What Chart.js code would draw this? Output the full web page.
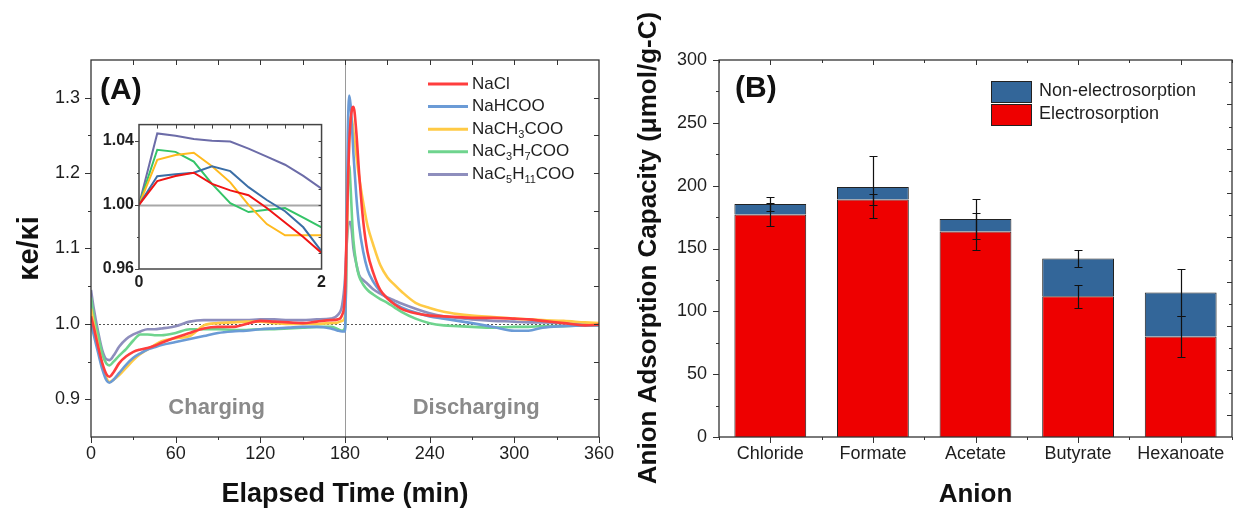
<!DOCTYPE html>
<html>
<head>
<meta charset="utf-8">
<script src="https://cdn.jsdelivr.net/npm/chart.js@4.4.1/dist/chart.umd.min.js"></script>
<style>
  html, body { margin: 0; padding: 0; background: #fff; }
  #wrap { position: relative; width: 1233px; height: 509px; overflow: hidden; }
  canvas { position: absolute; }
  #panelA { left: 0; top: 0; }
  #inset { left: 90px; top: 110px; }
  #panelB { left: 620px; top: 0; }
</style>
</head>
<body>
<div id="wrap">
  <canvas id="panelA" width="620" height="509" style="width:620px;height:509px"></canvas>
  <canvas id="inset" width="240" height="200" style="width:240px;height:200px"></canvas>
  <canvas id="panelB" width="613" height="509" style="width:613px;height:509px"></canvas>
</div>
<script>
// ---------- (A) conductivity ratio during charge / discharge ----------
const saltNames = ['NaCl', 'NaHCOO', 'NaCH3COO', 'NaC3H7COO', 'NaC5H11COO'];
const saltColors = ['#ff3d3d', '#6b9bd6', '#ffca45', '#6fd48e', '#8e8ebd'];
const insetColors = ['#f01414', '#3b6ea6', '#ffba1f', '#35c468', '#6c6ca8'];

const timeMin = [0, 2, 5, 8, 11, 13, 16, 20, 25, 30, 35, 40, 45, 50, 60, 70, 80, 90, 100, 110,
  120, 130, 140, 150, 160, 170, 175, 178, 180, 181, 182, 183, 184, 185, 186, 188, 190, 193, 196, 200,
  205, 210, 215, 220, 230, 240, 250, 260, 270, 285, 300, 310, 320, 335, 350, 360];

const kNaCl = [1.010, 0.995, 0.970, 0.948, 0.933, 0.930, 0.936, 0.948, 0.957, 0.963,
  0.966, 0.968, 0.971, 0.975, 0.982, 0.988, 0.994, 0.996, 0.996, 1.000,
  1.004, 1.003, 1.002, 1.001, 1.003, 1.005, 1.006, 1.012, 1.040, 1.110,
  1.180, 1.240, 1.270, 1.285, 1.288, 1.255, 1.200, 1.135, 1.095, 1.068,
  1.045, 1.034, 1.026, 1.020, 1.014, 1.011, 1.010, 1.009, 1.008, 1.008,
  1.007, 1.006, 1.004, 1.001, 0.998, 0.999];
const kFormate = [1.000, 0.985, 0.962, 0.940, 0.925, 0.922, 0.926, 0.935, 0.946, 0.955,
  0.961, 0.966, 0.969, 0.972, 0.976, 0.980, 0.984, 0.988, 0.990, 0.991,
  0.993, 0.994, 0.995, 0.996, 0.996, 0.994, 0.991, 0.990, 0.990, 1.100,
  1.250, 1.303, 1.290, 1.260, 1.225, 1.170, 1.130, 1.095, 1.072, 1.056,
  1.043, 1.034, 1.027, 1.022, 1.015, 1.010, 1.007, 1.004, 1.001, 0.996,
  0.991, 0.991, 0.995, 0.997, 0.998, 0.998];
const kAcetate = [1.020, 1.000, 0.972, 0.945, 0.928, 0.923, 0.926, 0.932, 0.942, 0.952,
  0.960, 0.966, 0.972, 0.977, 0.981, 0.984, 0.998, 1.001, 1.002, 1.003,
  1.003, 1.001, 1.000, 1.000, 1.000, 1.001, 1.002, 1.004, 1.010, 1.080,
  1.180, 1.250, 1.275, 1.270, 1.255, 1.225, 1.195, 1.160, 1.130, 1.105,
  1.078, 1.062, 1.052, 1.043, 1.028, 1.021, 1.016, 1.013, 1.011, 1.009,
  1.007, 1.006, 1.005, 1.004, 1.002, 1.001];
const kButyrate = [1.035, 1.010, 0.985, 0.960, 0.947, 0.945, 0.950, 0.958, 0.967, 0.978,
  0.986, 0.986, 0.985, 0.985, 0.988, 0.993, 0.993, 0.993, 0.992, 0.992,
  0.993, 0.993, 0.994, 0.995, 0.996, 0.996, 0.993, 0.991, 0.995, 1.080,
  1.190, 1.210, 1.180, 1.140, 1.110, 1.080, 1.063, 1.052, 1.045, 1.039,
  1.033, 1.028, 1.022, 1.016, 1.007, 1.001, 0.998, 0.997, 0.996, 0.995,
  0.996, 0.996, 0.997, 0.997, 0.998, 0.998];
const kHexanoate = [1.045, 1.020, 0.990, 0.965, 0.953, 0.952, 0.958, 0.970, 0.980, 0.986,
  0.990, 0.993, 0.993, 0.994, 0.997, 1.003, 1.005, 1.005, 1.005, 1.005,
  1.006, 1.006, 1.005, 1.005, 1.006, 1.007, 1.012, 1.025, 1.060, 1.100,
  1.125, 1.135, 1.135, 1.120, 1.100, 1.080, 1.065, 1.058, 1.053, 1.046,
  1.040, 1.035, 1.031, 1.027, 1.020, 1.014, 1.010, 1.008, 1.006, 1.004,
  1.003, 1.002, 1.002, 1.001, 1.000, 1.000];
const saltSeries = [kNaCl, kFormate, kAcetate, kButyrate, kHexanoate];

const timeTicks = [0, 60, 120, 180, 240, 300, 360];
const kappaTicks = [0.9, 1.0, 1.1, 1.2, 1.3];

// zoom on the first two minutes
const insetX = [0, 0.2, 0.4, 0.6, 0.8, 1.0, 1.2, 1.4, 1.6, 1.8, 2.0];
const iNaCl = [1.000, 1.0148, 1.018, 1.020, 1.013, 1.009, 1.006, 0.998, 0.989, 0.980, 0.970];
const iFormate = [1.000, 1.0178, 1.019, 1.020, 1.024, 1.021, 1.011, 1.003, 0.996, 0.986, 0.971];
const iAcetate = [1.000, 1.028, 1.031, 1.0325, 1.024, 1.014, 1.000, 0.988, 0.981, 0.981, 0.981];
const iButyrate = [1.000, 1.0343, 1.033, 1.027, 1.013, 1.001, 0.9955, 0.997, 0.998, 0.992, 0.986];
const iHexanoate = [1.000, 1.0445, 1.043, 1.041, 1.040, 1.0395, 1.035, 1.030, 1.025, 1.018, 1.010];
const insetSeries = [iNaCl, iFormate, iAcetate, iButyrate, iHexanoate];
const insetXTicks = [0, 2];
const insetYTicks = [0.96, 1.00, 1.04];

// ---------- (B) anion adsorption capacity ----------
const anions = ['Chloride', 'Formate', 'Acetate', 'Butyrate', 'Hexanoate'];
const electro = [177, 189, 163.5, 112, 80];
const electroErr = [9.4, 4, 15, 9, 16];
const nonElectro = [8.5, 10, 10, 30, 35];
const nonElectroErr = [5.3, 25, 16, 7, 19];
const capacityTicks = [0, 50, 100, 150, 200, 250, 300];

const FONT = '"Liberation Sans", Arial, Helvetica, sans-serif';
Chart.defaults.font.family = FONT;
Chart.defaults.color = '#1e1e1e';
Chart.defaults.animation = false;
Chart.defaults.plugins.legend.display = false;
Chart.defaults.plugins.tooltip.enabled = false;

function steps(from, to, step) {
  const out = [];
  for (let v = from; v <= to + step / 1000; v += step) out.push(Math.round(v * 1e6) / 1e6);
  return out;
}
function fixedTicks(values) {
  return scale => { scale.ticks = values.map(v => ({ value: v })); };
}

// formula text, digits set as subscripts
function drawFormula(ctx, text, x, y, size) {
  let cx = x;
  text.match(/\d+|\D+/g).forEach(part => {
    const sub = /\d/.test(part);
    ctx.font = (sub ? Math.round(size * 0.66) : size) + 'px ' + FONT;
    ctx.fillText(part, cx, sub ? y + size * 0.32 : y);
    cx += ctx.measureText(part).width;
  });
}

// closed frame plus tick marks on all four sides
const frame = {
  id: 'frame',
  afterDraw(chart, args, o) {
    const { ctx, chartArea: a } = chart;
    ctx.save();
    ctx.strokeStyle = o.color;
    ctx.lineWidth = o.width;
    ctx.strokeRect(a.left, a.top, a.right - a.left, a.bottom - a.top);
    ctx.lineWidth = 1;
    (o.marks || []).forEach(m => {
      const scale = chart.scales[m.scale];
      m.values.forEach((v, i) => {
        const len = Array.isArray(m.len) ? m.len[i % m.len.length] : m.len;
        const p = Math.round(scale.getPixelForValue(v)) + 0.5;
        ctx.beginPath();
        if (m.side === 'bottom') { ctx.moveTo(p, a.bottom); ctx.lineTo(p, a.bottom + m.dir * len); }
        if (m.side === 'top') { ctx.moveTo(p, a.top); ctx.lineTo(p, a.top - m.dir * len); }
        if (m.side === 'left') { ctx.moveTo(a.left, p); ctx.lineTo(a.left - m.dir * len, p); }
        if (m.side === 'right') { ctx.moveTo(a.right, p); ctx.lineTo(a.right + m.dir * len, p); }
        ctx.stroke();
      });
    });
    ctx.restore();
  }
};

// free text: panel tags, phase captions, long axis title
function notesPlugin(items) {
  return {
    id: 'notes',
    afterDraw(chart) {
      const { ctx } = chart;
      items.forEach(n => {
        let px = n.px, py = n.py;
        if (n.at) {
          px = chart.scales.x.getPixelForValue(n.at[0]);
          py = chart.scales.y.getPixelForValue(n.at[1]);
        }
        ctx.save();
        ctx.font = n.font;
        ctx.fillStyle = n.color;
        ctx.textAlign = n.align || 'left';
        ctx.textBaseline = 'middle';
        ctx.translate(px, py);
        if (n.rotate) ctx.rotate(n.rotate);
        ctx.fillText(n.text, 0, 0);
        ctx.restore();
      });
    }
  };
}

// guide lines drawn under the curves
const guides = {
  id: 'guides',
  beforeDatasetsDraw(chart, args, o) {
    const { ctx, chartArea: a, scales } = chart;
    ctx.save();
    (o.h || []).forEach(g => {
      const y = Math.round(scales.y.getPixelForValue(g.value)) + 0.5;
      ctx.strokeStyle = g.color;
      ctx.lineWidth = g.width || 1;
      ctx.setLineDash(g.dash || []);
      ctx.beginPath(); ctx.moveTo(a.left, y); ctx.lineTo(a.right, y); ctx.stroke();
    });
    (o.v || []).forEach(g => {
      const x = Math.round(scales.x.getPixelForValue(g.value)) + 0.5;
      ctx.strokeStyle = g.color;
      ctx.lineWidth = g.width || 1;
      ctx.setLineDash(g.dash || []);
      ctx.beginPath(); ctx.moveTo(x, a.top); ctx.lineTo(x, a.bottom); ctx.stroke();
    });
    ctx.restore();
  }
};

const lineKey = {
  id: 'lineKey',
  afterDraw(chart, args, o) {
    const { ctx } = chart;
    ctx.save();
    ctx.textBaseline = 'middle';
    chart.data.datasets.forEach((ds, i) => {
      const y = o.y + i * o.gap;
      ctx.strokeStyle = ds.borderColor;
      ctx.lineWidth = 3;
      ctx.beginPath(); ctx.moveTo(o.x, y); ctx.lineTo(o.x + o.len, y); ctx.stroke();
      ctx.fillStyle = '#1e1e1e';
      drawFormula(ctx, ds.label, o.x + o.len + 4, y, o.size);
    });
    ctx.restore();
  }
};

const boxKey = {
  id: 'boxKey',
  afterDraw(chart, args, o) {
    const { ctx } = chart;
    ctx.save();
    ctx.textBaseline = 'middle';
    ctx.font = o.size + 'px ' + FONT;
    o.order.forEach((d, r) => {
      const ds = chart.data.datasets[d];
      const y = o.y + r * o.gap;
      ctx.fillStyle = ds.backgroundColor;
      ctx.fillRect(o.x, y - o.h / 2, o.w, o.h);
      ctx.strokeStyle = '#222';
      ctx.lineWidth = 1;
      ctx.strokeRect(o.x + 0.5, y - o.h / 2 + 0.5, o.w, o.h);
      ctx.fillStyle = '#1e1e1e';
      ctx.fillText(ds.label, o.x + o.w + 8, y);
    });
    ctx.restore();
  }
};

const errorBars = {
  id: 'errorBars',
  afterDatasetsDraw(chart, args, o) {
    const { ctx } = chart;
    const y = chart.scales.y;
    ctx.save();
    ctx.strokeStyle = o.color;
    ctx.lineWidth = o.width;
    let base = anions.map(() => 0);
    o.sets.forEach((set, d) => {
      chart.getDatasetMeta(d).data.forEach((bar, j) => {
        const top = base[j] + set.values[j];
        const hi = Math.round(y.getPixelForValue(top + set.errors[j])) + 0.5;
        const lo = Math.round(y.getPixelForValue(top - set.errors[j])) + 0.5;
        const x = Math.round(bar.x) + 0.5;
        ctx.beginPath();
        ctx.moveTo(x, hi); ctx.lineTo(x, lo);
        ctx.moveTo(x - o.cap, hi); ctx.lineTo(x + o.cap, hi);
        ctx.moveTo(x - o.cap, lo); ctx.lineTo(x + o.cap, lo);
        ctx.stroke();
      });
      base = base.map((b, j) => b + set.values[j]);
    });
    ctx.restore();
  }
};

const plainGrid = { display: false, drawTicks: false };
const noBorder = { display: false };

// ---------- panel A ----------
new Chart(document.getElementById('panelA'), {
  type: 'line',
  data: {
    datasets: saltSeries.map((vals, i) => ({
      label: saltNames[i],
      data: timeMin.map((t, k) => ({ x: t, y: vals[k] })),
      borderColor: saltColors[i],
      borderWidth: 2.6,
      pointRadius: 0,
      cubicInterpolationMode: 'monotone'
    }))
  },
  options: {
    responsive: false,
    layout: { padding: { top: 60, right: 17, left: 0, bottom: 0 } },
    scales: {
      x: {
        type: 'linear', min: 0, max: 360,
        afterBuildTicks: fixedTicks(timeTicks),
        afterFit: s => { s.height = 72; },
        grid: plainGrid, border: noBorder,
        ticks: { padding: 6, font: { size: 18 }, maxRotation: 0, autoSkip: false },
        title: { display: true, text: 'Elapsed Time (min)', color: '#111',
          font: { size: 27, weight: 'bold', lineHeight: 1 }, padding: { top: 0, bottom: 1 } }
      },
      y: {
        min: 0.85, max: 1.35,
        afterBuildTicks: fixedTicks(kappaTicks),
        afterFit: s => { s.width = 91; },
        grid: plainGrid, border: noBorder,
        ticks: { padding: 11, font: { size: 18 }, callback: v => v.toFixed(1) },
        title: { display: true, text: 'κe/κi', color: '#111',
          font: { size: 29, weight: 'bold', lineHeight: 1 }, padding: { top: 15, bottom: 0 } }
      }
    },
    plugins: {
      frame: {
        color: '#333', width: 1.3,
        marks: [
          { scale: 'y', side: 'left', dir: 1, len: 6, values: kappaTicks },
          { scale: 'y', side: 'left', dir: 1, len: 3, values: steps(0.95, 1.25, 0.1) },
          { scale: 'y', side: 'right', dir: -1, len: 5, values: steps(0.9, 1.3, 0.05) },
          { scale: 'x', side: 'bottom', dir: 1, len: 6, values: timeTicks },
          { scale: 'x', side: 'bottom', dir: 1, len: 3, values: steps(30, 330, 60) },
          { scale: 'x', side: 'top', dir: -1, len: 5, values: steps(30, 330, 30) }
        ]
      },
      guides: {
        h: [{ value: 1.0, color: '#555', dash: [2, 2] }],
        v: [{ value: 180, color: '#9a9a9a' }]
      },
      lineKey: { x: 428, y: 84, gap: 22.6, len: 40, size: 17 }
    }
  },
  plugins: [guides, frame, lineKey, notesPlugin([
    { text: '(A)', px: 100, py: 91, font: 'bold 30px ' + FONT, color: '#111' },
    { text: 'Charging', at: [89, 0.888], align: 'center', font: 'bold 22px ' + FONT, color: '#8a8a8a' },
    { text: 'Discharging', at: [273, 0.888], align: 'center', font: 'bold 22px ' + FONT, color: '#8a8a8a' }
  ])]
});

// ---------- inset ----------
new Chart(document.getElementById('inset'), {
  type: 'line',
  data: {
    datasets: insetSeries.map((vals, i) => ({
      label: saltNames[i],
      data: insetX.map((x, k) => ({ x: x, y: vals[k] })),
      borderColor: insetColors[i],
      borderWidth: 2,
      pointRadius: 0,
      tension: 0
    }))
  },
  options: {
    responsive: false,
    layout: { padding: { top: 12, right: 8, left: 0, bottom: 0 } },
    scales: {
      x: {
        type: 'linear', min: 0, max: 2,
        afterBuildTicks: fixedTicks(insetXTicks),
        afterFit: s => { s.height = 41; },
        grid: plainGrid, border: noBorder,
        ticks: { padding: 4, font: { size: 16, weight: 'bold' }, maxRotation: 0, autoSkip: false }
      },
      y: {
        min: 0.96, max: 1.05,
        afterBuildTicks: fixedTicks(insetYTicks),
        afterFit: s => { s.width = 49; },
        grid: plainGrid, border: noBorder,
        ticks: { padding: 5, font: { size: 16, weight: 'bold' }, callback: v => v.toFixed(2) }
      }
    },
    plugins: {
      frame: {
        color: '#444', width: 1.5,
        marks: [
          { scale: 'y', side: 'left', dir: 1, len: 4, values: insetYTicks },
          { scale: 'y', side: 'left', dir: 1, len: 2, values: [0.98, 1.02] },
          { scale: 'y', side: 'right', dir: -1, len: 3, values: steps(0.97, 1.04, 0.01) },
          { scale: 'x', side: 'top', dir: -1, len: 4, values: steps(0.2, 1.8, 0.2) }
        ]
      },
      guides: { h: [{ value: 1.0, color: '#a8a8a8', width: 2 }] }
    }
  },
  plugins: [guides, frame]
});

// ---------- panel B ----------
new Chart(document.getElementById('panelB'), {
  type: 'bar',
  data: {
    labels: anions,
    datasets: [
      { label: 'Electrosorption', data: electro, backgroundColor: '#ee0000',
        borderColor: '#222', borderWidth: 1, stack: 'capacity' },
      { label: 'Non-electrosorption', data: nonElectro, backgroundColor: '#336699',
        borderColor: '#222', borderWidth: 1, stack: 'capacity' }
    ]
  },
  options: {
    responsive: false,
    layout: { padding: { top: 60, right: 1, left: 0, bottom: 0 } },
    datasets: { bar: { categoryPercentage: 0.7, barPercentage: 1 } },
    scales: {
      x: {
        stacked: true,
        afterFit: s => { s.height = 72; },
        grid: plainGrid, border: noBorder,
        ticks: { padding: 6, font: { size: 18 }, maxRotation: 0, autoSkip: false },
        title: { display: true, text: 'Anion', color: '#111',
          font: { size: 26, weight: 'bold', lineHeight: 1 }, padding: { top: 0, bottom: 1 } }
      },
      y: {
        stacked: true, min: 0, max: 300,
        afterBuildTicks: fixedTicks(capacityTicks),
        afterFit: s => { s.width = 99; },
        grid: plainGrid, border: noBorder,
        ticks: { padding: 12, font: { size: 18 } }
      },
      y2: { display: false, position: 'right', min: 0, max: 17 }
    },
    plugins: {
      frame: {
        color: '#333', width: 1.3,
        marks: [
          { scale: 'y', side: 'left', dir: 1, len: 6, values: capacityTicks },
          { scale: 'y', side: 'left', dir: 1, len: 3, values: steps(25, 275, 50) },
          { scale: 'x', side: 'bottom', dir: 1, len: 6, values: [0, 1, 2, 3, 4] },
          { scale: 'x', side: 'bottom', dir: 1, len: 3, values: steps(-0.5, 4.5, 1) },
          { scale: 'x', side: 'top', dir: -1, len: 5, values: [0, 1, 2, 3, 4] },
          { scale: 'x', side: 'top', dir: -1, len: 3, values: steps(-0.5, 4.5, 1) },
          { scale: 'y2', side: 'right', dir: -1, len: [5, 3], values: steps(1, 16, 1) }
        ]
      },
      errorBars: {
        color: '#111', width: 1.2, cap: 4,
        sets: [{ values: electro, errors: electroErr }, { values: nonElectro, errors: nonElectroErr }]
      },
      boxKey: { x: 371, y: 91.5, gap: 23, w: 40, h: 21, size: 18, order: [1, 0] }
    }
  },
  plugins: [frame, errorBars, boxKey, notesPlugin([
    { text: '(B)', px: 115, py: 89, font: 'bold 30px ' + FONT, color: '#111' },
    { text: 'Anion Adsorption Capacity (μmol/g-C)', px: 29, py: 248, rotate: -Math.PI / 2,
      align: 'center', font: 'bold 26px ' + FONT, color: '#111' }
  ])]
});
</script>
</body>
</html>
